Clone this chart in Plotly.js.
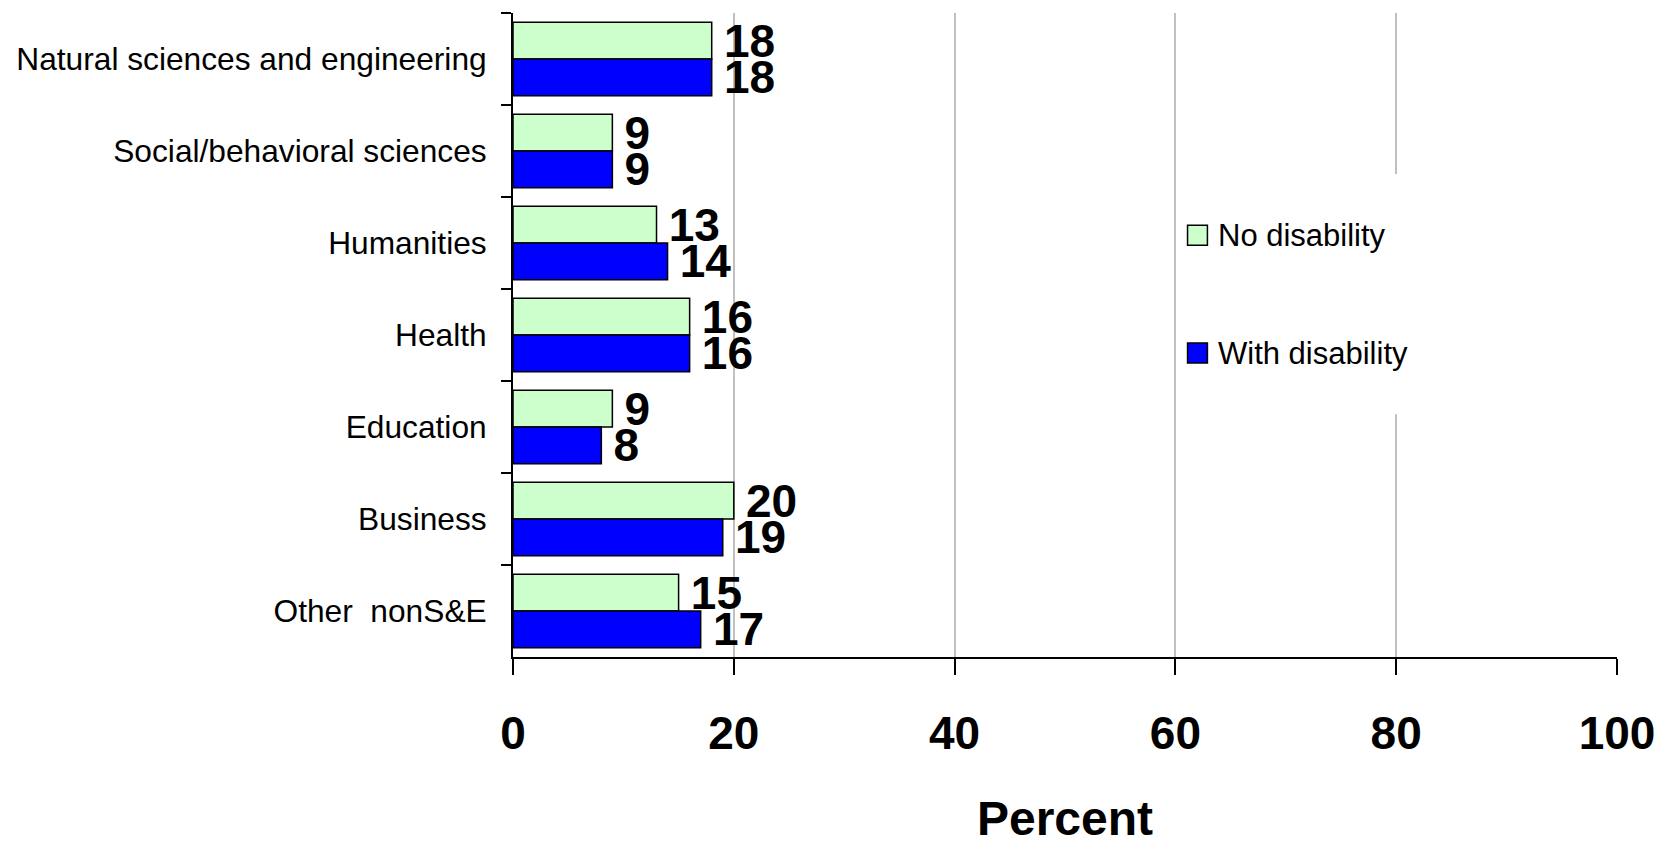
<!DOCTYPE html>
<html>
<head>
<meta charset="utf-8">
<script src="https://cdn.plot.ly/plotly-3.0.1.min.js"></script>
<style>
  html, body { margin: 0; padding: 0; background: #fff; }
  #chart { width: 1668px; height: 845px; }
</style>
</head>
<body>
<div id="chart"></div>
<script>
// Fields of study, listed top to bottom
const fields = [
  "Natural sciences and engineering",
  "Social/behavioral sciences",
  "Humanities",
  "Health",
  "Education",
  "Business",
  "Other\u00a0\u00a0nonS&E"
];

// Series names and their percentages per field
const seriesNames = ["No disability", "With disability"];
const noDisability = [18, 9, 13, 16, 9, 20, 15];
const withDisability = [18, 9, 14, 16, 8, 19, 17];

// Axis ticks
const percentTicks = [0, 20, 40, 60, 80, 100];

const seriesValues = [noDisability, withDisability];
const seriesColors = ["#CCFFCC", "#0000FF"];
const baseFont = "Liberation Sans, Arial, sans-serif";

const traces = seriesValues.map((vals, i) => ({
  type: "bar",
  orientation: "h",
  name: seriesNames[i],
  y: fields,
  x: vals,
  text: vals.map(v => String(v)),
  texttemplate: "\u2009%{text}",
  textposition: "outside",
  cliponaxis: false,
  constraintext: "none",
  textfont: { family: baseFont, size: 46, color: "#000", weight: "bold" },
  marker: { color: seriesColors[i], line: { color: "#000", width: 1.5 } },
  showlegend: false,
  hoverinfo: "skip"
}));

// Legend drawn as a white panel with swatches and labels
const legendX0 = 61.1, legendSwatch = 1.8;
const legendY = [0.655, 0.472];
const swatchH = 0.031;
const shapes = [{
  type: "rect", xref: "x", yref: "paper",
  x0: 60.7, x1: 83, y0: 0.377, y1: 0.75,
  fillcolor: "#fff", line: { width: 0 }, layer: "above"
}];
const annotations = [];
seriesNames.forEach((name, i) => {
  shapes.push({
    type: "rect", xref: "x", yref: "paper",
    x0: legendX0, x1: legendX0 + legendSwatch,
    y0: legendY[i] - swatchH / 2, y1: legendY[i] + swatchH / 2,
    fillcolor: seriesColors[i], line: { color: "#000", width: 1.5 }, layer: "above"
  });
  annotations.push({
    xref: "x", yref: "paper",
    x: legendX0 + legendSwatch + 0.8, y: legendY[i],
    xanchor: "left", yanchor: "middle", showarrow: false,
    text: name,
    font: { family: baseFont, size: 31, color: "#000" }
  });
});

const layout = {
  width: 1668, height: 845,
  margin: { l: 513, r: 51, t: 13, b: 188 },
  paper_bgcolor: "#fff", plot_bgcolor: "#fff",
  barmode: "group",
  bargap: 0.2,
  bargroupgap: 0,
  font: { family: baseFont, color: "#000" },
  xaxis: {
    range: [0, 100],
    tickvals: percentTicks,
    ticktext: percentTicks.map(String),
    ticks: "outside", ticklen: 16, tickwidth: 2, tickcolor: "#000",
    ticklabelstandoff: 19,
    tickfont: { family: baseFont, size: 46, weight: "bold" },
    showline: true, linecolor: "#000", linewidth: 2,
    showgrid: true, gridcolor: "#C0C0C0", gridwidth: 2,
    zeroline: false,
    title: {
      text: "Percent",
      font: { family: baseFont, size: 48, weight: "bold" },
      standoff: 50
    },
    fixedrange: true
  },
  yaxis: {
    type: "category",
    autorange: "reversed",
    ticks: "outside", tickson: "boundaries", ticklen: 10, tickwidth: 2, tickcolor: "#000",
    ticklabelstandoff: 18,
    tickfont: { family: baseFont, size: 31.7 },
    showline: true, linecolor: "#000", linewidth: 2,
    showgrid: false, zeroline: false,
    fixedrange: true
  },
  shapes: shapes,
  annotations: annotations
};

Plotly.newPlot("chart", traces, layout, { displayModeBar: false, staticPlot: true });
</script>
</body>
</html>
